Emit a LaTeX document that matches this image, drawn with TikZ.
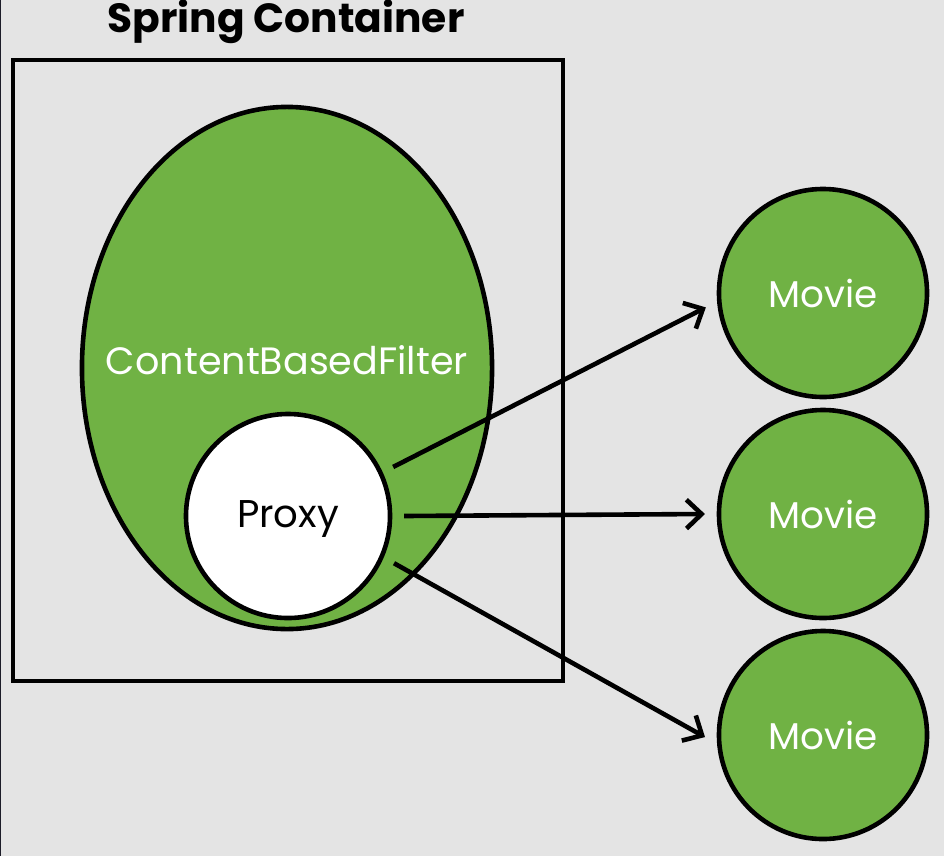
\documentclass[tikz,border=0pt]{standalone}
\usepackage{fontspec}
\setmainfont{Poppins}
\usepackage{xcolor}
\usepackage{tikz}
\usetikzlibrary{arrows.meta,shapes.geometric}
\definecolor{bgGray}{HTML}{E4E4E4}
\definecolor{edgeDark}{HTML}{1C1C28}
\definecolor{beanGreen}{HTML}{70B244}

\begin{document}
\begin{tikzpicture}[
  x=0.025cm, y=-0.025cm,
  line width=0.115cm,
  title/.style={font=\fontsize{29}{32}\selectfont\bfseries, text=black},
  container/.style={draw, minimum width=13.75cm, minimum height=15.525cm, inner sep=0pt},
  bean/.style={ellipse, draw, fill=beanGreen, minimum width=10.25cm, minimum height=13.05cm, inner sep=0pt},
  beanlabel/.style={font=\fontsize{27.1}{30}\selectfont, text=white},
  proxy/.style={circle, draw, fill=white, minimum size=5.1cm, inner sep=0pt, outer sep=0.35cm,
    font=\fontsize{27.5}{30}\selectfont},
  movie/.style={circle, draw, fill=beanGreen, minimum size=5.2cm, inner sep=0pt, outer sep=0.35cm,
    font=\fontsize{26.5}{30}\selectfont, text=white},
  arrow/.style={-{Straight Barb[length=0.38cm, width=0.72cm, line width=0.115cm]}},
]
% canvas
\fill[bgGray] (0,0) rectangle (944,856);
\useasboundingbox (0,0) rectangle (944,856);
\draw[edgeDark, line width=0.04cm] (0,0) -- (0,856);

% container with the filter bean and its proxy
\node[title] (springtitle) at (286,22) {Spring Container};
\node[container] (container) at (288,370.5) {};
\node[bean] (cbf) at (287,368) {};
\node[beanlabel] (cbflabel) at (287,360) {ContentBasedFilter};
\node[proxy] (proxy) at (288,516) {};
\node (proxylabel) at (288,519) {\fontsize{27.5}{30}\selectfont Proxy};

% prototype beans
\node[movie] (movie1) at (823,293) {Movie};
\node[movie] (movie2) at (823,514) {Movie};
\node[movie] (movie3) at (823,735) {Movie};

\draw[arrow] (proxy.25) -- (movie1.187);
\draw[arrow] (proxy.0) -- (movie2.180);
\draw[arrow] (proxy.-24) -- (movie3.181);
\end{tikzpicture}
\end{document}
